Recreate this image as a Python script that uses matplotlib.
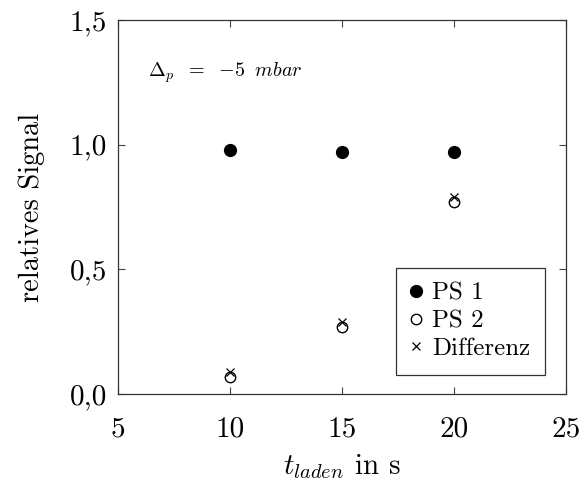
import matplotlib
matplotlib.use("Agg")
import matplotlib.pyplot as plt

t_laden = [10, 15, 20]
ps1 = [0.98, 0.97, 0.97]
ps2 = [0.07, 0.27, 0.77]
diff = [0.09, 0.29, 0.79]
x_ticks = [5, 10, 15, 20, 25]
y_ticks = [0.0, 0.5, 1.0, 1.5]
y_tick_labels = ["0,0", "0,5", "1,0", "1,5"]

plt.rcParams['font.family'] = 'serif'
plt.rcParams['font.serif'] = ['cmr10']
plt.rcParams['mathtext.fontset'] = 'cm'
plt.rcParams['axes.unicode_minus'] = False

fig = plt.figure(figsize=(5.88, 4.9), dpi=100)
ax = fig.add_axes([118/588, 1-394/490, (566-118)/588, (394-20)/490])

ax.plot(t_laden, ps1, linestyle='none', marker='o', markersize=8.5, color='black',
        markerfacecolor='black', label='PS 1')
ax.plot(t_laden, ps2, linestyle='none', marker='o', markersize=7.5, color='black',
        markerfacecolor='white', markeredgewidth=1.0, label='PS 2')
ax.plot(t_laden, diff, linestyle='none', marker='x', markersize=6, color='black',
        markeredgewidth=0.9, label='Differenz')

ax.set_xlim(5, 25)
ax.set_ylim(0, 1.5)
ax.set_xticks(x_ticks)
ax.set_xticklabels([str(v) for v in x_ticks])
ax.set_yticks(y_ticks)
ax.set_yticklabels(y_tick_labels)
ax.tick_params(direction='in', length=5, width=0.8, top=True, right=True,
               labelsize=21, color='#444444')
ax.tick_params(axis='x', pad=16)
ax.tick_params(axis='y', pad=8)
for s in ax.spines.values():
    s.set_linewidth(0.9)
    s.set_color('#333333')

ax.set_xlabel(r'$t_{laden}$ in s', fontsize=21, labelpad=7)
ax.set_ylabel('relatives Signal', fontsize=20.5, labelpad=18)

ax.text(148/588, 1-77/490, r'$\Delta_p\ \;=\ \;{-5}\;\ mbar$', transform=fig.transFigure,
        fontsize=14.5, ha='left', va='baseline')

leg = ax.legend(loc='lower right', bbox_to_anchor=(545/588, 1-375/490),
                bbox_transform=fig.transFigure, fontsize=18, frameon=True,
                fancybox=False, edgecolor='#333333', framealpha=1,
                handlelength=0.4, handletextpad=0.45, borderpad=0.6,
                labelspacing=0.2, borderaxespad=0)
leg.get_frame().set_linewidth(0.9)

fig.savefig('out.png', dpi=100)
